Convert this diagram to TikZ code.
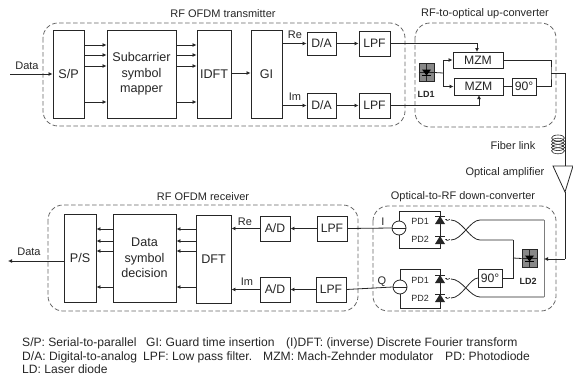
\documentclass[tikz,border=0pt]{standalone}
\usepackage{fontspec}
\setmainfont{Liberation Sans}
\usetikzlibrary{arrows.meta,calc}
\definecolor{ink}{gray}{0.15}
\tikzset{
  x=1pt,y=-1pt,
  lbl/.style={inner sep=0pt,text=ink,font=\fontsize{#1}{#1}\selectfont},
  lbl/.default=11,
  blk/.style={draw=ink,line width=0.9pt,fill=white,inner sep=0pt,align=center,font=\fontsize{12.6}{15.5}\selectfont,text=ink},
  sm/.style={blk,font=\fontsize{12.2}{14}\selectfont},
  grp/.style={draw=ink!70,dash pattern=on 4.5pt off 2.5pt,line width=0.8pt,rounded corners=15pt},
  wire/.style={draw=ink,line width=0.8pt},
  arr/.style={wire,-{Latex[length=4pt,width=4pt]}},
  pd/.style={inner sep=0pt,text=ink,font=\fontsize{9}{9}\selectfont\bfseries},
  pdn/.style={inner sep=0pt,text=ink,font=\fontsize{9}{9}\selectfont},
  leg/.style={inner sep=0pt,text=ink,anchor=base west,font=\fontsize{12.1}{12.1}\selectfont},
}
\newcommand{\blkat}[7]{\node[#1,minimum width={(#5-#3)*1pt},minimum height={(#6-#4)*1pt}] (#2) at ({(#3+#5)/2},{(#4+#6)/2}) {#7};}
\newcommand{\diode}[2]{%
  \fill[ink] (#1-5,#2+4) -- (#1+5,#2+4) -- (#1,#2-4) -- cycle;
  \draw[ink,line width=0.9pt] (#1-5,#2-4) -- (#1+5,#2-4);
}
\newcommand{\squig}[2]{%
  \draw[ink,line width=0.5pt,-{Latex[length=2pt,width=2pt]}] (#1+10,#2) .. controls (#1+9,#2-2) and (#1+8,#2+2) .. (#1+7,#2) -- (#1+5,#2-1);
}
\newcommand{\ldbox}[3]{%
  \node[draw=ink,fill=ink!55,line width=0.6pt,minimum width=15pt,minimum height=18pt,inner sep=0pt] (#1) at (#2,#3) {};
  \draw[ink,line width=0.5pt] (#1.north) -- (#1.south) (#1.west) -- (#1.east);
  \fill[black] (#2-4.5,#3-3) -- (#2+4.5,#3-3) -- (#2,#3+3) -- cycle;
  \draw[black,line width=0.8pt] (#2-4.5,#3+3) -- (#2+4.5,#3+3);
}
\begin{document}
\begin{tikzpicture}
\useasboundingbox (0,0) rectangle (573,380);
% group frames
\draw[grp] (43,23) rectangle (405,126);
\draw[grp] (415,23) rectangle (556,127);
\draw[grp] (48,205) rectangle (358,311);
\draw[grp] (373,206) rectangle (556,311);
\node[lbl] (ttx) at (223,14) {RF OFDM transmitter};
\node[lbl] (tup) at (485,14) {RF-to-optical up-converter};
\node[lbl] (trx) at (203,197) {RF OFDM receiver};
\node[lbl] (tdn) at (463,197) {Optical-to-RF down-converter};
% transmitter
\blkat{blk}{sp}{53}{30}{84}{118}{S/P}
\blkat{blk}{map}{107}{30}{176}{118}{Subcarrier\\symbol\\mapper}
\blkat{blk}{idft}{197}{30}{231}{118}{IDFT}
\blkat{blk}{gi}{251}{30}{282}{118}{GI}
\blkat{sm}{da1}{307}{32}{336}{55}{D/A}
\blkat{sm}{da2}{307}{93}{336}{118}{D/A}
\blkat{sm}{lp1}{359}{31}{390}{56}{LPF}
\blkat{sm}{lp2}{359}{93}{390}{118}{LPF}
\coordinate (din) at (10,74);
\draw[arr] (din) -- (din -| sp.west);
\node[lbl] (dl1) at (27,66) {Data};
\foreach \y in {45,55,66,102}{
  \draw[arr] (sp.east |- 0,\y) -- (map.west |- 0,\y);
  \draw[arr] (map.east |- 0,\y) -- (idft.west |- 0,\y);
}
\draw[arr] (idft.east |- 0,73) -- (gi.west |- 0,73);
\draw[arr] (gi.east |- da1.west) -- (da1.west);
\draw[arr] (gi.east |- da2.west) -- (da2.west);
\node[lbl] (re1) at (295,35) {Re};
\node[lbl] (im1) at (295,97) {Im};
\draw[arr] (da1) -- (lp1);
\draw[arr] (da2) -- (lp2);
% up-converter
\blkat{sm}{mz1}{453}{52}{503}{68}{MZM}
\blkat{sm}{mz2}{454}{78}{503}{95}{MZM}
\blkat{sm}{ph1}{512}{78}{536}{95}{90°}
\ldbox{ld1}{426.5}{72.5}
\node[pd] (ld1t) at (426,94) {LD1};
\coordinate (j1) at (443,73);
\draw[wire] (ld1.east) -- (j1);
\draw[arr] (j1) |- (mz1.west);
\draw[arr] (j1) |- (mz2.west);
\coordinate (u1) at (477,52);
\coordinate (u2) at (479,95);
\draw[arr] (lp1.east) -| (u1);
\draw[arr] (lp2.east |- 0,105) -| (u2);
\draw[wire] (mz2.east) -- (mz2.east -| ph1.west);
\coordinate (j2) at (551,73);
\draw[wire] (mz1.east) -| (j2) |- (ph1.east);
\coordinate (c1) at (565,73);
\coordinate (c2) at (565,166);
\draw[wire] (j2) -- (c1) -- (c2);
\foreach \d in {0,1,2,3,4}{\draw[ink,line width=0.6pt] (558,{138+\d*3.2}) ellipse (6.5 and 3);}
\node[lbl] (fl) at (513,146) {Fiber link};
\node[lbl] (oa) at (505,173) {Optical amplifier};
\coordinate (tip) at (565,192);
\draw[wire,line join=miter] (553,166) -- (573,166) -- (tip) -- cycle;
% down converter
\ldbox{ld2}{529.5}{258.5}
\node[pd] (ld2t) at (528,281) {LD2};
\blkat{sm}{ph2}{478}{269}{502}{287}{90°}
\node[draw=ink,line width=0.8pt,fill=white,circle,minimum size=14pt,inner sep=0pt] (c3) at (399,228) {};
\node[draw=ink,line width=0.8pt,fill=white,circle,minimum size=14pt,inner sep=0pt] (c4) at (400,287) {};
\draw[wire] (c3.west) -- (c3.east);
\draw[wire] (c4.west) -- (c4.east);
\draw[wire] (c3.north) |- (440,211) -- (440,248) -- (c3.south |- 0,248) -- (c3.south);
\draw[wire] (c4.north) |- (440,269) -- (440,308) -- (c4.south |- 0,308) -- (c4.south);
\foreach \y in {220,240,279,298}{\diode{440}{\y}\squig{440}{\y}}
\node[pdn] (p1) at (420,221) {PD1};
\node[pdn] (p2) at (420,239) {PD2};
\node[pdn] (p3) at (420,280) {PD1};
\node[pdn] (p4) at (420,298) {PD2};
% couplers
\draw[wire] (451,220) .. controls (462,220) and (470,240) .. (480,240) -- (513,240);
\draw[wire] (451,240) .. controls (462,240) and (470,220) .. (480,220) -- (544,220);
\draw[wire] (451,279) .. controls (462,279) and (470,297) .. (480,297) -- (544,297);
\draw[wire] (451,298) .. controls (462,298) and (470,278) .. (478,278);
\draw[wire,draw=ink!60,line width=1pt] (544,220) -- (544,297);
\coordinate (j3) at (513,258);
\draw[wire] (513,240) -- (513,278) -- (ph2.east);
\draw[wire] (j3) -- (ld2.west);
\coordinate (c5) at (565,259);
\coordinate (c6) at (544,259);
\draw[wire] (tip) -- (c5);
\draw[arr] (c5) -- (c6);
% receiver
\blkat{blk}{ps}{64}{214}{96}{302}{P/S}
\blkat{blk}{dsd}{113}{214}{176}{302}{Data\\symbol\\decision}
\blkat{blk}{dft}{196}{215}{231}{303}{DFT}
\blkat{sm}{ad1}{260}{216}{290}{241}{A/D}
\blkat{sm}{ad2}{260}{277}{290}{302}{A/D}
\blkat{sm}{lr1}{317}{216}{347}{241}{LPF}
\blkat{sm}{lr2}{316}{277}{346}{302}{LPF}
\foreach \y in {229,241,251,287}{
  \draw[arr] (dft.west |- 0,\y) -- (dsd.east |- 0,\y);
  \draw[arr] (dsd.west |- 0,\y) -- (ps.east |- 0,\y);
}
\coordinate (dout) at (8,261);
\draw[arr] (ps.west |- dout) -- (dout);
\node[lbl] (dl2) at (29,252) {Data};
\draw[arr] (ad1.west) -- (ad1.west -| dft.east);
\draw[arr] (ad2.west) -- (ad2.west -| dft.east);
\node[lbl] (re2) at (245,222) {Re};
\node[lbl] (im2) at (247,282) {Im};
\draw[arr] (lr1) -- (ad1);
\draw[arr] (lr2) -- (ad2);
\draw[wire] (lr1.east) -- (c3.west);
\draw[wire] (lr2.east) -- (c4.west);
\node[lbl] (il) at (383,222) {I};
\node[lbl] (ql) at (382,282) {Q};
% legend
\node[leg] (a1) at (22,346) {S/P: Serial-to-parallel};
\node[leg] (a2) at (146,346) {GI: Guard time insertion};
\node[leg] (a3) at (286,346) {(I)DFT: (inverse) Discrete Fourier transform};
\node[leg] (b1) at (22,360) {D/A: Digital-to-analog};
\node[leg] (b2) at (143,360) {LPF: Low pass filter.};
\node[leg] (b3) at (263,360) {MZM: Mach-Zehnder modulator};
\node[leg] (b4) at (445,360) {PD: Photodiode};
\node[leg] (c1t) at (22,373) {LD: Laser diode};
\end{tikzpicture}
\end{document}
